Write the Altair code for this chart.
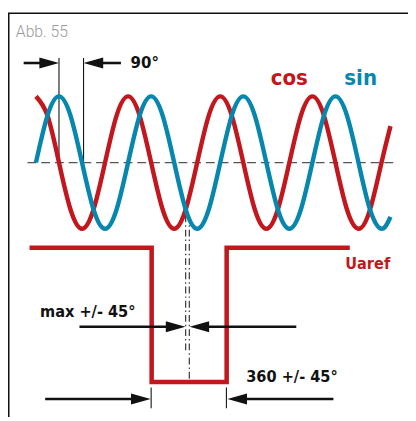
import altair as alt
import pandas as pd

# ---- data (phase in degrees, amplitude in units of the sine amplitude) ----
phase = [0, 45, 90, 135, 180, 225, 270, 315,
         360, 405, 450, 495, 540, 585, 630, 675,
         720, 765, 810, 855, 900, 945, 990, 1035,
         1080, 1125, 1170, 1215, 1260, 1305, 1350, 1385]
sin_vals = [0, 0.71, 1, 0.71, 0, -0.71, -1, -0.71,
            0, 0.71, 1, 0.71, 0, -0.71, -1, -0.71,
            0, 0.71, 1, 0.71, 0, -0.71, -1, -0.71,
            0, 0.71, 1, 0.71, 0, -0.71, -1, -0.82]
cos_vals = [1, 0.71, 0, -0.71, -1, -0.71, 0, 0.71,
            1, 0.71, 0, -0.71, -1, -0.71, 0, 0.71,
            1, 0.71, 0, -0.71, -1, -0.71, 0, 0.71,
            1, 0.71, 0, -0.71, -1, -0.71, 0, 0.55]

uref_x = [-25, 452, 452, 745, 745, 1226]
uref_y = [-1.289, -1.289, -3.316, -3.316, -1.289, -1.289]

XD = [-109.15, 1453.4]
YD = [-3.844, 2.274]

RED = "#C1171D"
BLUE = "#0787AD"
INK = "#111111"
FONT = "Liberation Sans Narrow, DejaVu Sans Condensed, Arial Narrow, sans-serif"

xs = alt.Scale(domain=XD, nice=False, zero=False)
ys = alt.Scale(domain=YD, nice=False, zero=False)


def X(f="x"):
    return alt.X(f"{f}:Q", scale=xs, axis=None)


def Y(f="y"):
    return alt.Y(f"{f}:Q", scale=ys, axis=None)


waves = pd.DataFrame({
    "x": phase * 2,
    "y": sin_vals + cos_vals,
    "s": ["sin"] * len(phase) + ["cos"] * len(phase),
    "o": list(range(len(phase))) * 2,
})
cos_layer = alt.Chart(waves[waves.s == "cos"]).mark_line(
    strokeWidth=4.5, interpolate="natural", strokeCap="butt", color=RED
).encode(x=X(), y=Y(), order=alt.Order("o:Q"))
sin_layer = alt.Chart(waves[waves.s == "sin"]).mark_line(
    strokeWidth=4.5, interpolate="natural", strokeCap="butt", color=BLUE
).encode(x=X(), y=Y(), order=alt.Order("o:Q"))

# square wave
uref = pd.DataFrame({"x": uref_x, "y": uref_y, "o": list(range(len(uref_x)))})
uref_layer = alt.Chart(uref).mark_line(
    strokeWidth=4.6, color=RED, strokeJoin="miter", strokeCap="butt"
).encode(x=X(), y=Y(), order=alt.Order("o:Q"))

# frame
frame_h = pd.DataFrame({"x": [XD[0]], "x2": [XD[1]], "y": [2.255]})
frame_v = pd.DataFrame({"x": [-106.3], "y": [2.255], "y2": [YD[0]]})
frame_layer = (
    alt.Chart(frame_h).mark_rule(strokeWidth=1.6, color=INK).encode(x=X(), x2="x2:Q", y=Y())
    + alt.Chart(frame_v).mark_rule(strokeWidth=1.6, color=INK).encode(x=X(), y=Y(), y2="y2:Q")
)

# dashed zero line
zero = pd.DataFrame({"x": [-33], "x2": [1411], "y": [0]})
zero_layer = alt.Chart(zero).mark_rule(
    strokeWidth=1.3, color="#555555", strokeDash=[9, 5]
).encode(x=X(), x2="x2:Q", y=Y())

# thin vertical lines (90 deg marker and bottom ticks)
vlines = pd.DataFrame({
    "x": [90, 186, 450, 744],
    "y": [1.578, 1.578, -3.4, -3.4],
    "y2": [0, 0, -3.711, -3.711],
})
vline_layer = alt.Chart(vlines).mark_rule(strokeWidth=1.1, color=INK).encode(
    x=X(), y=Y(), y2="y2:Q")

# dash-dot lines
dd = pd.DataFrame({"x": [585, 599], "y": [-0.8, -0.8], "y2": [-2.867, -3.356]})
dd_layer = alt.Chart(dd).mark_rule(
    strokeWidth=1.1, color="#222222", strokeDash=[7, 3, 1.5, 3]
).encode(x=X(), y=Y(), y2="y2:Q")

# arrows: start, tip, y
arrow_from = [-48, 332, 170, 1017, 36, 1162]
arrow_tip = [90, 186, 584, 600, 448, 748]
arrow_y = [1.504, 1.504, -2.481, -2.481, -3.573, -3.573]
arrows = pd.DataFrame({"x": arrow_from, "tip": arrow_tip, "y": arrow_y})
arrows["dir"] = ["r" if t > f else "l" for f, t in zip(arrows.x, arrows.tip)]
arrows["x2"] = [t - 40 if d == "r" else t + 40 for t, d in zip(arrows.tip, arrows.dir)]
shaft_layer = alt.Chart(arrows).mark_rule(strokeWidth=2.6, color=INK).encode(
    x=X(), x2="x2:Q", y=Y())
RIGHT = "M0,0 L-1,-0.28 L-1,0.28 Z"
LEFT = "M0,0 L1,-0.28 L1,0.28 Z"
head_layer = alt.Chart(arrows).mark_point(
    filled=True, size=1600, opacity=1, color=INK, strokeWidth=0
).encode(
    x=X("tip"), y=Y(),
    shape=alt.Shape("dir:N", scale=alt.Scale(domain=["r", "l"], range=[RIGHT, LEFT]), legend=None),
)


def txt(label, x, y, size, color, weight="bold", font=FONT):
    df = pd.DataFrame({"x": [x], "y": [y], "t": [label]})
    return alt.Chart(df).mark_text(
        align="left", baseline="alphabetic", fontSize=size, fontWeight=weight,
        color=color, font=font
    ).encode(x=X(), y=Y(), text="t:N")


texts = (
    txt("Abb. 55", -78.5, 1.89, 16, "#9a9a9a", weight=300, font="Roboto, Lato, sans-serif")
    + txt("90°", 369.6, 1.43, 17, INK)
    + txt("cos", 917, 1.178, 22.5, RED)
    + txt("sin", 1204.5, 1.178, 22.5, BLUE)
    + txt("Uaref", 1208.3, -1.607, 16.5, RED)
    + txt("max +/- 45°", 16, -2.333, 16.5, INK)
    + txt("360 +/- 45°", 821.5, -3.311, 16.5, INK)
)

chart = alt.layer(
    frame_layer, zero_layer, dd_layer, vline_layer, uref_layer,
    cos_layer, sin_layer, shaft_layer, head_layer, texts
).properties(
    width=408, height=413, padding=0, autosize=alt.AutoSizeParams(type="none"),
    background="white"
).configure_view(stroke=None)

chart.save("out.html", embed_options={"renderer": "svg", "actions": False})
